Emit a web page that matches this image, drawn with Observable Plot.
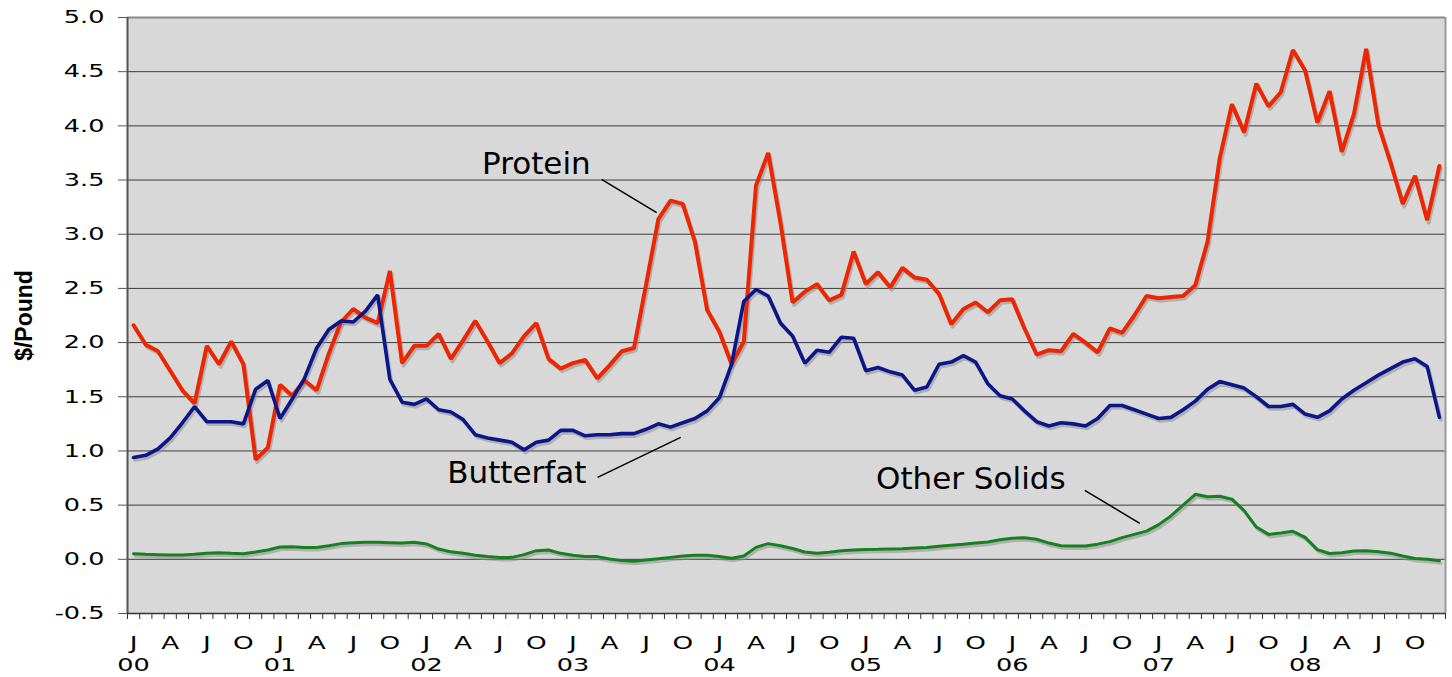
<!DOCTYPE html>
<html><head><meta charset="utf-8">
<script src="https://cdn.jsdelivr.net/npm/d3@7"></script>
<script src="https://cdn.jsdelivr.net/npm/@observablehq/plot@0.6"></script>
<style>
html,body{margin:0;padding:0;background:#fff;}
#chart svg{display:block;}
</style></head><body><div id="chart"></div>
<script>
// Monthly values, Jan 2000 .. Dec 2008 ($/pound)
const protein = [
 2.16,1.98,1.92,1.74,1.56,1.44,1.97,1.80,2.01,1.80,0.92,1.03,
 1.61,1.51,1.65,1.56,1.90,2.19,2.31,2.23,2.18,2.66,1.81,1.97,
 1.97,2.08,1.85,2.02,2.20,2.01,1.81,1.90,2.06,2.18,1.85,1.76,
 1.81,1.84,1.67,1.79,1.92,1.95,2.54,3.14,3.31,3.28,2.93,2.30,
 2.10,1.80,2.01,3.45,3.75,3.11,2.37,2.47,2.54,2.39,2.44,2.84,
 2.54,2.65,2.51,2.69,2.60,2.58,2.45,2.17,2.31,2.37,2.28,2.39,
 2.40,2.13,1.89,1.93,1.92,2.08,2.00,1.91,2.13,2.09,2.25,2.43,
 2.41,2.42,2.43,2.53,2.93,3.70,4.20,3.94,4.39,4.18,4.31,4.70,
 4.51,4.03,4.32,3.76,4.11,4.71,4.01,3.66,3.28,3.54,3.13,3.63
];
const butterfat = [
 0.94,0.96,1.02,1.12,1.26,1.41,1.27,1.27,1.27,1.25,1.57,1.65,
 1.30,1.48,1.67,1.95,2.12,2.20,2.19,2.29,2.44,1.66,1.45,1.43,
 1.48,1.38,1.36,1.29,1.15,1.12,1.10,1.08,1.01,1.08,1.10,1.19,
 1.19,1.14,1.15,1.15,1.16,1.16,1.20,1.25,1.22,1.26,1.30,1.37,
 1.49,1.80,2.38,2.49,2.43,2.18,2.06,1.81,1.93,1.91,2.05,2.04,
 1.74,1.77,1.73,1.70,1.56,1.59,1.80,1.82,1.88,1.82,1.62,1.51,
 1.48,1.37,1.27,1.23,1.26,1.25,1.23,1.30,1.42,1.42,1.38,1.34,
 1.30,1.31,1.38,1.46,1.57,1.64,1.61,1.58,1.50,1.41,1.41,1.43,
 1.34,1.31,1.37,1.48,1.56,1.63,1.70,1.76,1.82,1.85,1.78,1.31
];
const otherSolids = [
 0.052,0.046,0.043,0.040,0.040,0.046,0.055,0.060,0.055,0.052,0.068,0.086,
 0.114,0.117,0.108,0.110,0.126,0.145,0.154,0.157,0.157,0.154,0.150,0.157,
 0.142,0.095,0.069,0.056,0.038,0.025,0.017,0.018,0.043,0.080,0.086,0.055,
 0.038,0.025,0.025,0.003,-0.012,-0.018,-0.006,0.006,0.018,0.030,0.037,0.037,
 0.025,0.010,0.030,0.110,0.145,0.125,0.100,0.068,0.057,0.066,0.078,0.085,
 0.090,0.092,0.095,0.098,0.104,0.110,0.120,0.130,0.140,0.150,0.160,0.180,
 0.195,0.200,0.185,0.150,0.125,0.123,0.123,0.140,0.163,0.200,0.230,0.260,
 0.320,0.400,0.500,0.600,0.578,0.582,0.555,0.450,0.298,0.230,0.243,0.258,
 0.202,0.090,0.054,0.060,0.076,0.079,0.070,0.057,0.031,0.008,0.000,-0.014
];
const seriesNames = ["Protein","Butterfat","Other Solids"];
const seriesColors = ["#ec2600","#0b1688","#14801e"];
const seriesWidths = [4, 3.6, 3];
const monthLetters = ["J","A","J","O"];
const yearLabels = ["00","01","02","03","04","05","06","07","08"];
const yTicks = [-0.5,0,0.5,1,1.5,2,2.5,3,3.5,4,4.5,5];
const yLabel = "$/Pound";
// annotation label positions (month index, value) and leader lines
const annotations = [
 {label:"Protein",      x:33.5, y:3.65,  x1:38.85, y1:3.506, x2:43.36, y2:3.20},
 {label:"Butterfat",    x:31.9, y:0.80,  x1:38.52, y1:0.756, x2:45.33, y2:1.125},
 {label:"Other Solids", x:69.1, y:0.745, x1:78.44, y1:0.637, x2:82.95, y2:0.332}
];

const seriesData = [protein, butterfat, otherSolids];
const rows = seriesData.flatMap((arr, s) => arr.map((v, i) => ({t: i + 0.5, v, series: seriesNames[s]})));
const nMonths = protein.length;
const quarterRows = d3.range(0, nMonths, 3).map(i => ({t: i + 0.5, label: monthLetters[(i % 12) / 3]}));
const yearRows = yearLabels.map((y, k) => ({t: k * 12 + 0.5, label: y}));

const lineMarks = [];
seriesNames.forEach((name, s) => {
  const d = rows.filter(r => r.series === name);
  lineMarks.push(Plot.lineY(d, {x: "t", y: "v", stroke: "#8f8f8f", strokeOpacity: 0.55, strokeWidth: seriesWidths[s], dx: 1.5, dy: 2.5}));
});
seriesNames.forEach((name, s) => {
  const d = rows.filter(r => r.series === name);
  lineMarks.push(Plot.lineY(d, {x: "t", y: "v", stroke: seriesColors[s], strokeWidth: seriesWidths[s], strokeLinejoin: "miter"}));
});

const chart = Plot.plot({
  width: 1452, height: 677,
  marginLeft: 127, marginRight: 7, marginTop: 17, marginBottom: 64,
  x: {domain: [0, nMonths]},
  y: {domain: [-0.5, 5]},
  style: {fontFamily: "DejaVu Sans", fontSize: "18px", color: "#000", background: "#fff"},
  marks: [
    Plot.frame({fill: "#d8d8d8", stroke: null}),
    Plot.ruleY(yTicks.slice(0, -1), {stroke: "#3c3c3c", strokeWidth: 1}),
    Plot.ruleY([5], {stroke: "#8a8a8a", strokeWidth: 2}),
    Plot.ruleX([nMonths], {stroke: "#9a9a9a", strokeWidth: 2}),
    ...lineMarks,
    Plot.link(annotations, {x1: "x1", y1: "y1", x2: "x2", y2: "y2", stroke: "#000", strokeWidth: 1.5}),
    Plot.text(annotations, {x: "x", y: "y", text: "label", fontSize: 31, fill: "#000", fontFamily: "DejaVu Sans"}),
    Plot.axisY(yTicks, {tickFormat: d => d.toFixed(1), tickSize: 9, tickPadding: 14, stroke: "#555", label: null, fontSize: 18}),
    Plot.ruleX([0], {stroke: "#555", strokeWidth: 2}),
    Plot.ruleY([-0.5], {stroke: "#333", strokeWidth: 1.5}),
    Plot.axisX(d3.range(0, nMonths + 1), {tickSize: 6, tickFormat: () => "", stroke: "#333", label: null}),
    Plot.text(quarterRows, {x: "t", frameAnchor: "bottom", text: "label", lineAnchor: "top", dy: 22, fontSize: 18.5}),
    Plot.text(yearRows, {x: "t", frameAnchor: "bottom", text: "label", lineAnchor: "top", dy: 45, fontSize: 18}),
    Plot.text([yLabel], {text: d => d, frameAnchor: "left", textAnchor: "middle", dx: -103, rotate: -90, fontWeight: "bold", fontSize: 23, fontFamily: "Liberation Sans, Arial, sans-serif"})
  ]
});
document.getElementById("chart").appendChild(chart);
// widen the tick-label glyphs like the original (wide Verdana-style lettering)
const stretch = 1.42;
const tickTexts = new Set([...monthLetters, ...yearLabels, ...yTicks.map(d => d.toFixed(1))]);
chart.querySelectorAll("text").forEach(t => {
  if (!tickTexts.has(t.textContent)) return;
  const w = t.getComputedTextLength();
  if (w > 0) {
    t.setAttribute("textLength", (w * stretch).toFixed(2));
    t.setAttribute("lengthAdjust", "spacingAndGlyphs");
  }
});
</script>
</body></html>
